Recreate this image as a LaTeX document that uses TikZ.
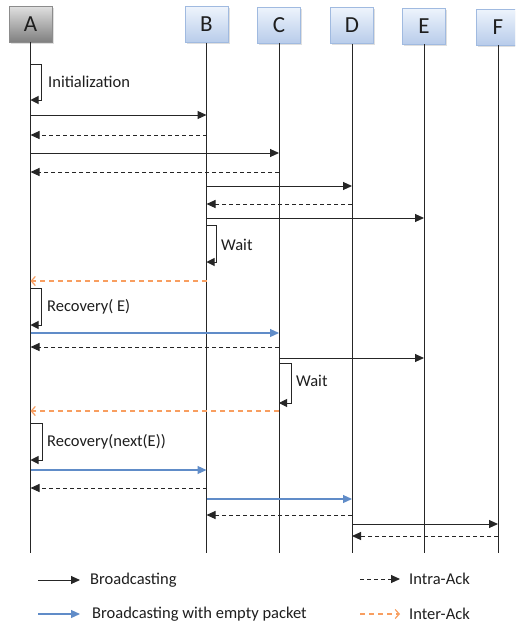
\documentclass[tikz,border=0pt]{standalone}
\usepackage{fontspec}
\setmainfont{Carlito}
\usetikzlibrary{arrows.meta,shadows}
\definecolor{bcblue}{RGB}{96,140,200}
\definecolor{iaorange}{RGB}{248,158,96}
\definecolor{boxtopb}{RGB}{238,244,252}
\definecolor{boxbotb}{RGB}{184,204,234}
\definecolor{boxbordb}{RGB}{160,186,224}
\definecolor{txt}{RGB}{30,30,30}
\begin{document}
\begin{tikzpicture}[x=1pt,y=-1pt,
  lifebox/.style={draw=boxbordb, line width=0.8pt, minimum width=43pt, minimum height=36pt,
    top color=boxtopb, bottom color=boxbotb, font=\fontsize{23}{25}\selectfont, text=txt,
    drop shadow={opacity=0.25, shadow xshift=1.5pt, shadow yshift=-1.5pt}},
  graybox/.style={lifebox, draw=black!45, top color=black!12, bottom color=black!50},
  life/.style={draw=black!85, line width=1pt},
  bc/.style={draw=black!85, line width=1pt, -{Triangle[length=9pt,width=8pt]}},
  ack/.style={bc, dash pattern=on 4pt off 3pt},
  emptypkt/.style={draw=bcblue, line width=1.2pt, -{Triangle[length=9pt,width=8pt]}, fill=bcblue},
  inter/.style={draw=iaorange, line width=1.2pt, dash pattern=on 5pt off 4pt, -{Straight Barb[length=4pt,width=9pt]}},
  selfloop/.style={draw=black!85, line width=1pt, -{Triangle[length=8pt,width=8pt]}},
  lbl/.style={font=\fontsize{16.5}{18}\selectfont, text=txt, anchor=west, inner sep=0pt}]
\clip (0,0) rectangle (515,624);
\fill[white] (0,0) rectangle (515,624);
% lifeline heads
\node[graybox] (A) at (30.5,24) {A};
\node[lifebox] (B) at (206.5,24.5) {B};
\node[lifebox] (C) at (279,25) {C};
\node[lifebox] (D) at (352,25.5) {D};
\node[lifebox] (E) at (424,26) {E};
\node[lifebox] (F) at (498,27) {F};
% lifeline ends
\coordinate (Aend) at (30.5,553);
\coordinate (Bend) at (206.5,553);
\coordinate (Cend) at (279,553);
\coordinate (Dend) at (352,553);
\coordinate (Eend) at (424,553);
\coordinate (Fend) at (498,553);
\draw[life] (A) -- (Aend);
\draw[life] (B) -- (Bend);
\draw[life] (C) -- (Cend);
\draw[life] (D) -- (Dend);
\draw[life] (E) -- (Eend);
\draw[life] (F) -- (Fend);
% Initialization
\draw[selfloop] (A |- 0,64) -- ++(11,0) -- ++(0,36) -- (A |- 0,100);
\node[lbl] (init) at (48,82) {Initialization};
\draw[bc] (A |- 0,115) -- (B |- 0,115);
\draw[ack] (B |- 0,135) -- (A |- 0,135);
\draw[bc] (A |- 0,153) -- (C |- 0,153);
\draw[ack] (C |- 0,172) -- (A |- 0,172);
\draw[bc] (B |- 0,186) -- (D |- 0,186);
\draw[ack] (D |- 0,204) -- (B |- 0,204);
\draw[bc] (B |- 0,218) -- (E |- 0,218);
% Wait at B
\draw[selfloop] (B |- 0,225) -- ++(10,0) -- ++(0,37) -- (B |- 0,262);
\node[lbl] (wait1) at (221,245) {Wait};
\draw[inter] (B |- 0,281) -- (A |- 0,281);
% Recovery(E)
\draw[selfloop] (A |- 0,288) -- ++(11,0) -- ++(0,37) -- (A |- 0,325);
\node[lbl] (rec1) at (47,307) {Recovery( E)};
\draw[emptypkt] (A |- 0,333) -- (C |- 0,333);
\draw[ack] (C |- 0,347) -- (A |- 0,347);
\draw[bc] (C |- 0,358) -- (E |- 0,358);
% Wait at C
\draw[selfloop] (C |- 0,363) -- ++(12,0) -- ++(0,40) -- (C |- 0,403);
\node[lbl] (wait2) at (296,381) {Wait};
\draw[inter] (C |- 0,411) -- (A |- 0,411);
% Recovery(next(E))
\draw[selfloop] (A |- 0,423) -- ++(12,0) -- ++(0,37) -- (A |- 0,460);
\node[lbl] (rec2) at (47,442) {Recovery(next(E))};
\draw[emptypkt] (A |- 0,470) -- (B |- 0,470);
\draw[ack] (B |- 0,488) -- (A |- 0,488);
\draw[emptypkt] (B |- 0,499) -- (D |- 0,499);
\draw[ack] (D |- 0,515) -- (B |- 0,515);
\draw[bc] (D |- 0,524) -- (F |- 0,524);
\draw[ack] (F |- 0,536) -- (D |- 0,536);
% legend
\coordinate (l1s) at (38,580); \coordinate (l1e) at (80,580);
\draw[bc] (l1s) -- (l1e);
\node[lbl] (l1t) at (90,580) {Broadcasting};
\coordinate (l2s) at (38,614); \coordinate (l2e) at (80,614);
\draw[emptypkt] (l2s) -- (l2e);
\node[lbl] (l2t) at (92,614) {Broadcasting with empty packet};
\coordinate (l3s) at (360,579); \coordinate (l3e) at (400,579);
\draw[ack] (l3s) -- (l3e);
\node[lbl] (l3t) at (409,579) {Intra-Ack};
\coordinate (l4s) at (360,614); \coordinate (l4e) at (400,614);
\draw[inter] (l4s) -- (l4e);
\node[lbl] (l4t) at (409,614) {Inter-Ack};
\end{tikzpicture}
\end{document}
